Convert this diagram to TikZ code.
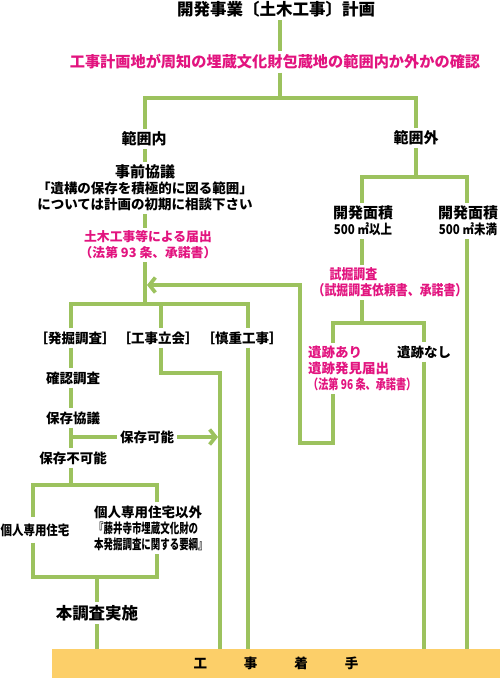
\documentclass[tikz,border=0pt]{standalone}
\usepackage{fontspec}
\usetikzlibrary{arrows.meta}
\newfontfamily\jp{Noto Sans CJK JP}
\definecolor{lg}{HTML}{9CC25E}
\definecolor{pk}{HTML}{E2147F}
\definecolor{barc}{HTML}{FCCF69}
\newcommand\cx[2]{\scalebox{#1}[1]{#2}}
\newcommand\fs[1]{\fontsize{#1}{16}\selectfont}
\begin{document}
\begin{tikzpicture}[x=1pt,y=-1pt,
  g/.style={draw=lg,line width=3.7pt},
  arr/.style={-{Straight Barb[length=6pt,width=15pt]}},
  t/.style={inner sep=3pt,font=\jp\bfseries\fs{13.5},align=center},
  pinktext/.style={text=pk}]
\useasboundingbox (0,0) rectangle (500,678);
% nodes
\node[t,font=\jp\bfseries\fs{16.5}] (title) at (276,9) {開発事業〔土木工事〕計画};
\node[t,pinktext,font=\jp\bfseries\fs{15.2}] (check) at (275,62) {工事計画地が周知の埋蔵文化財包蔵地の範囲内か外かの確認};
\node[t,font=\jp\bfseries\fs{15}] (inner) at (144,139) {範囲内};
\node[t,font=\jp\bfseries\fs{15}] (outer) at (416,138) {範囲外};
\node[t] (pre) at (145,188) {{\fs{15}事前協議}\\「遺構の保存を積極的に図る範囲」\\については計画の初期に相談下さい};
\node[t,pinktext,font=\jp\bfseries\fs{12.8}] (notice) at (148,245) {土木工事等による届出\\（法第 93 条、承諾書）};
\node[t] (ex) at (75,338) {［発掘調査］};
\node[t] (wit) at (158,338) {［工事立会］};
\node[t] (care) at (242,338) {［慎重工事］};
\node[t] (kak) at (73,378) {確認調査};
\node[t] (kyo) at (73,418) {保存協議};
\node[t] (kano) at (147,437) {保存可能};
\node[t] (fuka) at (73,458) {保存不可能};
\node[t,inner ysep=6pt,inner xsep=1pt] (own) at (35,530) {\cx{0.85}{個人専用住宅}};
\node[t,align=left,anchor=west,inner xsep=1pt] (other) at (93,528) {個人専用住宅以外\\\cx{0.7}{『藤井寺市埋蔵文化財の}\\\cx{0.7}{本発掘調査に関する要綱』}};
\node[t,font=\jp\bfseries\fs{16.5}] (hon) at (97,613) {本調査実施};
\node[t] (area1) at (363,221) {{\fs{15}開発面積}\\\cx{0.85}{500 ㎡以上}};
\node[t] (area2) at (468,221) {{\fs{15}開発面積}\\\cx{0.85}{500 ㎡未満}};
\node[t,pinktext,align=left,font=\jp\bfseries\fs{14}] (trial) at (390,282.5) {\hspace*{17pt}\cx{0.85}{試掘調査}\\\cx{0.85}{（試掘調査依頼書、承諾書）}};
\node[t,pinktext,align=left,anchor=west,inner xsep=1pt] (ari) at (307,368.5) {遺跡あり\\遺跡発見届出\\\cx{0.75}{（法第 96 条、承諾書）}};
\node[t] (nashi) at (424,352) {遺跡なし};
\node[fill=barc,minimum width=448pt,minimum height=29pt,inner sep=0pt,font=\jp\bfseries\fs{13.5}] (bar) at (276,663.5) {工\hspace{37pt}事\hspace{37pt}着\hspace{37pt}手};
% coordinates
\coordinate (top) at (280,98);
\coordinate (tl) at (145,98);
\coordinate (tr) at (416,98);
\coordinate (split) at (145,304);
\coordinate (bl) at (71,304);
\coordinate (bm) at (161,304);
\coordinate (br) at (248,304);
\coordinate (kj) at (71,437);
\coordinate (kanoend) at (218,437);
\coordinate (m1) at (161,373);
\coordinate (m2) at (220,373);
\coordinate (bx1) at (33,485);
\coordinate (bx2) at (157,485);
\coordinate (bx3) at (157,577);
\coordinate (bx4) at (33,577);
\coordinate (bxm) at (97,577);
\coordinate (rj) at (416,177);
\coordinate (ra) at (362,177);
\coordinate (rb) at (467,177);
\coordinate (tj) at (362,323);
\coordinate (ta) at (333,323);
\coordinate (tb) at (424,323);
\coordinate (ret1) at (333,443);
\coordinate (ret2) at (300,443);
\coordinate (ret3) at (300,285);
\coordinate (arrend) at (147,285);
% connectors
\draw[g] (title.south -| top) -- (check.north -| top);
\draw[g] (check.south -| top) -- (top);
\draw[g] (inner.north -| tl) -- (tl) -- (tr) -- (outer.north -| tr);
\draw[g] (inner.south -| tl) -- (pre.north -| tl);
\draw[g] (pre.south -| tl) -- (notice.north -| tl);
\draw[g] (notice.south -| tl) -- (split);
\draw[g] (ex.north -| bl) -- (bl) -- (br) -- (care.north -| br);
\draw[g] (bm) -- (wit.north -| bm);
\draw[g] (ex.south -| bl) -- (kak.north -| bl);
\draw[g] (kak.south -| bl) -- (kyo.north -| bl);
\draw[g] (kyo.south -| bl) -- (fuka.north -| bl);
\draw[g] (kj) -- (kano.west);
\draw[g,arr] (kano.east) -- (kanoend);
\draw[g] (fuka.south -| bl) -- (bl |- bx1);
\draw[g] (other.north -| bx2) -- (bx2) -- (bx1) -- (own.north -| bx1);
\draw[g] (own.south -| bx1) -- (bx4) -- (bx3) -- (other.south -| bx3);
\draw[g] (bxm) -- (hon.north -| bxm);
\draw[g] (hon.south -| bxm) -- (bar.north -| bxm);
\draw[g] (wit.south -| bm) -- (m1) -- (m2) -- (bar.north -| m2);
\draw[g] (care.south -| br) -- (bar.north -| br);
\draw[g] (outer.south -| rj) -- (rj);
\draw[g] (area1.north -| ra) -- (ra) -- (rb) -- (area2.north -| rb);
\draw[g] (area1.south -| ra) -- (trial.north -| ra);
\draw[g] (trial.south -| ra) -- (tj);
\draw[g] (ari.north -| ta) -- (ta) -- (tb) -- (nashi.north -| tb);
\draw[g,arr] (ari.south -| ta) -- (ret1) -- (ret2) -- (ret3) -- (arrend);
\draw[g] (nashi.south -| tb) -- (bar.north -| tb);
\draw[g] (area2.south -| rb) -- (bar.north -| rb);
\end{tikzpicture}
\end{document}
